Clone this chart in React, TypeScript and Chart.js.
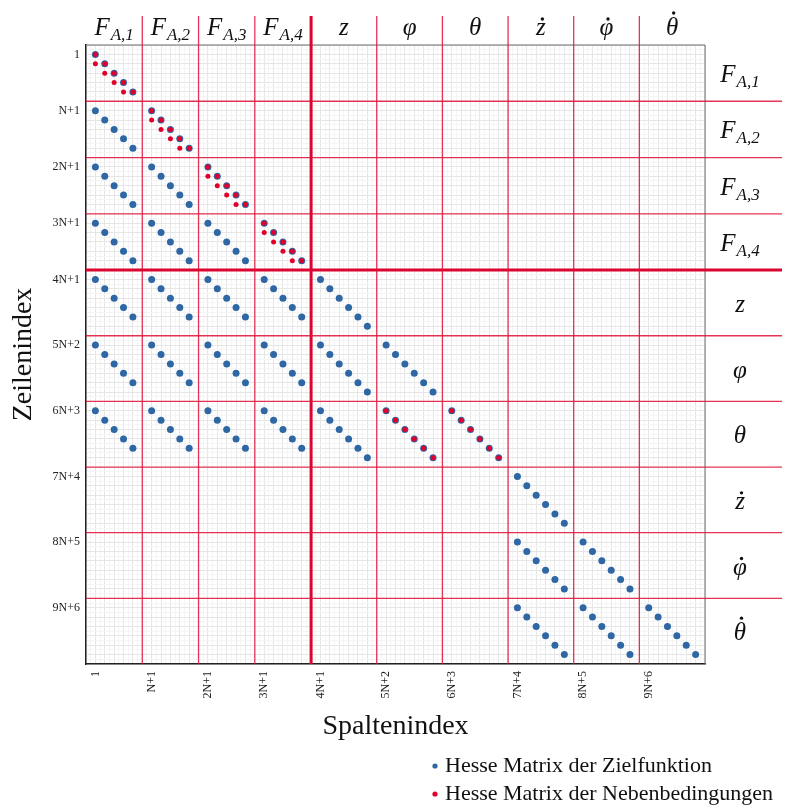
import React, { useEffect, useRef } from 'react';
import { Chart, registerables } from 'chart.js';

Chart.register(...registerables);

const W = 794;
const H = 806;
const SERIF = "'Liberation Serif', 'DejaVu Serif', serif";

// index axis (N = 6): block boundaries and number of nonzeros on each block diagonal
const blockStarts = [0, 6, 12, 18, 24, 31, 38, 45, 52, 59];
const blockEnds = [6, 12, 18, 24, 31, 38, 45, 52, 59, 66];
const blockNnz = [5, 5, 5, 5, 6, 6, 6, 6, 6, 6];
const blockMain = ['F', 'F', 'F', 'F', 'z', 'φ', 'θ', 'z', 'φ', 'θ'];
const blockSub = ['A,1', 'A,2', 'A,3', 'A,4', '', '', '', '', '', ''];
const blockDot = [false, false, false, false, false, false, false, true, true, true];
const thickBoundary = 24;
const axisMax = 66;

const tickValues = [1, 7, 13, 19, 25, 32, 39, 46, 53, 60];
const tickLabels = ['1', 'N+1', '2N+1', '3N+1', '4N+1', '5N+2', '6N+3', '7N+4', '8N+5', '9N+6'];

// [row block, column block] pairs holding a diagonal band of nonzeros
const objectiveBands = [
  [0, 0],
  [1, 0], [1, 1],
  [2, 0], [2, 1], [2, 2],
  [3, 0], [3, 1], [3, 2], [3, 3],
  [4, 0], [4, 1], [4, 2], [4, 3], [4, 4],
  [5, 0], [5, 1], [5, 2], [5, 3], [5, 4], [5, 5],
  [6, 0], [6, 1], [6, 2], [6, 3], [6, 4], [6, 5], [6, 6],
  [7, 7],
  [8, 7], [8, 8],
  [9, 7], [9, 8], [9, 9],
];
const constraintBands = [[0, 0], [1, 1], [2, 2], [3, 3], [6, 5], [6, 6]];
const constraintSubBands = [[0, 0], [1, 1], [2, 2], [3, 3]];

const legendLabels = ['Hesse Matrix der Zielfunktion', 'Hesse Matrix der Nebenbedingungen'];
const BLUE = '#2e67a3';
const RED = '#e0002b';
const LINE_RED = 'rgba(226, 16, 58, 0.85)';

function bandPoints(bands: number[][], shift: number) {
  const pts: { x: number; y: number }[] = [];
  for (const [r, c] of bands) {
    const n = Math.min(blockNnz[r], blockNnz[c]) - shift;
    for (let k = 1; k <= n; k++) {
      pts.push({ x: blockStarts[c] + k, y: blockStarts[r] + k + shift });
    }
  }
  return pts;
}

const gridValues: number[] = [];
for (let v = 0; v <= axisMax; v += 0.5) gridValues.push(v);

function labelFor(v: number) {
  const i = tickValues.indexOf(v);
  return i >= 0 ? tickLabels[i] : '';
}

function drawMath(ctx: CanvasRenderingContext2D, i: number, cx: number, baseline: number) {
  const mainFont = `italic 25px ${SERIF}`;
  const subFont = `italic 17px ${SERIF}`;
  ctx.font = mainFont;
  const mm = ctx.measureText(blockMain[i]);
  const wMain = mm.width;
  ctx.font = subFont;
  const wSub = blockSub[i] ? ctx.measureText(blockSub[i]).width + 1 : 0;
  const left = cx - (wMain + wSub) / 2;
  ctx.fillStyle = '#111';
  ctx.textAlign = 'left';
  ctx.textBaseline = 'alphabetic';
  ctx.font = mainFont;
  ctx.fillText(blockMain[i], left, baseline);
  if (blockSub[i]) {
    ctx.font = subFont;
    ctx.fillText(blockSub[i], left + wMain + 1, baseline + 5);
  }
  if (blockDot[i]) {
    const asc = mm.actualBoundingBoxAscent;
    ctx.beginPath();
    ctx.arc(left + wMain / 2 + 1.5, baseline - asc - 4, 1.7, 0, Math.PI * 2);
    ctx.fill();
  }
}

const overlayPlugin = {
  id: 'overlay',
  beforeDatasetsDraw(chart: any) {
    const { ctx, chartArea: a, scales } = chart;
    const x = scales.x;
    const y = scales.y;
    ctx.save();
    ctx.strokeStyle = '#6a6a6a';
    ctx.lineWidth = 1;
    ctx.beginPath();
    ctx.moveTo(a.left, a.top);
    ctx.lineTo(a.right, a.top);
    ctx.lineTo(a.right, a.bottom);
    ctx.stroke();
    for (let i = 0; i < blockEnds.length - 1; i++) {
      const b = blockEnds[i];
      const thick = b === thickBoundary;
      ctx.strokeStyle = thick ? '#dc0530' : LINE_RED;
      ctx.lineWidth = thick ? 3 : 1.3;
      const px = x.getPixelForValue(b);
      const py = y.getPixelForValue(b);
      ctx.beginPath();
      ctx.moveTo(px, 16);
      ctx.lineTo(px, a.bottom);
      ctx.stroke();
      ctx.beginPath();
      ctx.moveTo(a.left, py);
      ctx.lineTo(782, py);
      ctx.stroke();
    }
    ctx.restore();
  },
  afterDraw(chart: any) {
    const { ctx, scales } = chart;
    const x = scales.x;
    const y = scales.y;
    ctx.save();
    for (let i = 0; i < blockStarts.length; i++) {
      const cx = (x.getPixelForValue(blockStarts[i]) + x.getPixelForValue(blockEnds[i])) / 2;
      drawMath(ctx, i, cx, 35);
      const cy = (y.getPixelForValue(blockStarts[i]) + y.getPixelForValue(blockEnds[i])) / 2;
      drawMath(ctx, i, 740, cy + 9);
    }
    // legend
    const colors = [BLUE, RED];
    ctx.font = `22px ${SERIF}`;
    ctx.textAlign = 'left';
    ctx.textBaseline = 'alphabetic';
    const baselines = [772, 800];
    for (let i = 0; i < legendLabels.length; i++) {
      ctx.fillStyle = colors[i];
      ctx.beginPath();
      ctx.arc(435, baselines[i] - 6, 2.6, 0, Math.PI * 2);
      ctx.fill();
      ctx.fillStyle = '#111';
      ctx.fillText(legendLabels[i], 445, baselines[i]);
    }
    ctx.restore();
  },
};

export default function App() {
  const ref = useRef<HTMLCanvasElement>(null);
  useEffect(() => {
    document.body.style.margin = '0';
    const canvas = ref.current;
    if (!canvas) return;
    const gridColor = (c: any) => (c.tick && c.tick.value % 1 === 0 ? '#e6e6e6' : '#f5f5f5');
    const chart = new Chart(canvas, {
      type: 'scatter',
      data: {
        datasets: [
          {
            label: legendLabels[0],
            data: bandPoints(objectiveBands, 0),
            backgroundColor: BLUE,
            borderWidth: 0,
            pointRadius: 3.5,
            order: 2,
          },
          {
            label: legendLabels[1],
            data: [...bandPoints(constraintBands, 0), ...bandPoints(constraintSubBands, 1)],
            backgroundColor: RED,
            borderWidth: 0,
            pointRadius: 2.5,
            order: 1,
          },
        ],
      },
      options: {
        responsive: false,
        animation: false,
        devicePixelRatio: 1,
        layout: { padding: { left: 0, top: 45, right: 89, bottom: 62 } },
        plugins: { legend: { display: false }, tooltip: { enabled: false } },
        scales: {
          x: {
            type: 'linear',
            position: 'bottom',
            min: 0,
            max: axisMax,
            afterBuildTicks: (s: any) => {
              s.ticks = gridValues.map((v) => ({ value: v }));
            },
            afterFit: (s: any) => {
              s.height = 80;
            },
            ticks: {
              autoSkip: false,
              minRotation: 90,
              maxRotation: 90,
              padding: 7,
              color: '#222',
              font: { family: SERIF, size: 12 },
              callback: (v: any) => labelFor(Number(v)),
            },
            grid: { color: gridColor, lineWidth: 1, drawTicks: false },
            border: { color: '#222', width: 1.5 },
            title: {
              display: true,
              text: 'Spaltenindex',
              color: '#111',
              font: { family: SERIF, size: 28 },
              padding: { top: 0, bottom: 1 },
            },
          },
          y: {
            type: 'linear',
            min: 0,
            max: axisMax,
            reverse: true,
            afterBuildTicks: (s: any) => {
              s.ticks = gridValues.map((v) => ({ value: v }));
            },
            afterFit: (s: any) => {
              s.width = 86;
            },
            ticks: {
              autoSkip: false,
              padding: 6,
              color: '#222',
              font: { family: SERIF, size: 12 },
              callback: (v: any) => labelFor(Number(v)),
            },
            grid: { color: gridColor, lineWidth: 1, drawTicks: false },
            border: { color: '#222', width: 1.5 },
            title: {
              display: true,
              text: 'Zeilenindex',
              color: '#111',
              font: { family: SERIF, size: 28 },
              padding: { top: 7, bottom: 0 },
            },
          },
        },
      },
      plugins: [overlayPlugin],
    } as any);
    return () => chart.destroy();
  }, []);
  return (
    <div style={{ position: 'absolute', left: 0, top: 0, width: W, height: H }}>
      <canvas ref={ref} width={W} height={H} style={{ width: W, height: H, display: 'block' }} />
    </div>
  );
}
